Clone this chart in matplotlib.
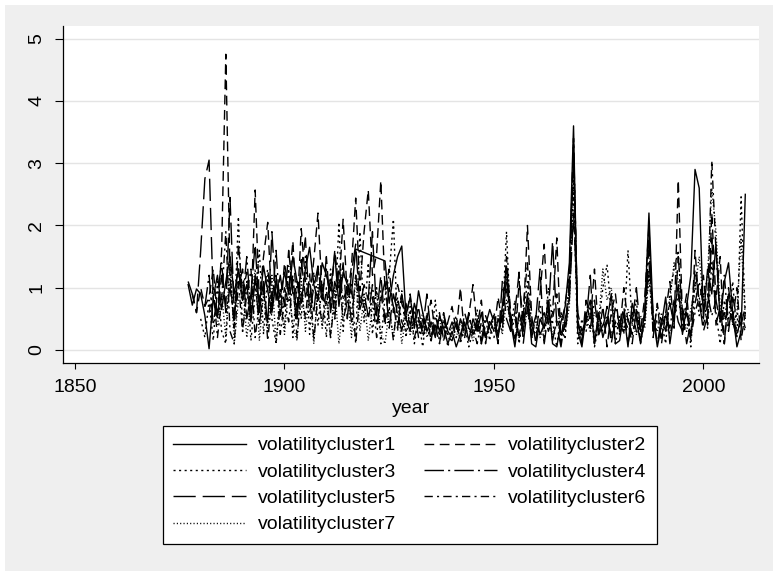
# Stata-style line chart: seven volatility cluster series by year
import matplotlib.pyplot as plt
from matplotlib.patches import Rectangle

plt.rcParams['font.family'] = ['Liberation Sans', 'DejaVu Sans']
plt.rcParams['lines.scale_dashes'] = False

labels = ['volatilitycluster1', 'volatilitycluster2', 'volatilitycluster3',
          'volatilitycluster4', 'volatilitycluster5', 'volatilitycluster6',
          'volatilitycluster7']

# first year of each series (values below are one per year from there on)
starts = [1877, 1878, 1880, 1881, 1877, 1882, 1884]

# values (None = year missing, line joins across it)
vc1 = [1.05, 0.72, 0.98,
       0.9, 0.55, 0.02, 0.85, 1.2, 0.65, 1.1, 1.5, 0.9, 1.3,
       0.8, 1.05, 0.45, 1.2, 0.7, 1.35, 0.95, 0.6, 1.1, 0.85,
       1.25, 0.9, 1.5, 1.1, 0.75, 1.3, 1.65, 1.05, 0.8, 1.4,
       1.2, 0.95, 1.55, 0.7, 1.25, 1.05, 0.9, 1.62, None, None,
       None, None, None, None, 1.43, 0.75, 1.2, 1.5, 1.67, 0.55,
       0.85, 0.4, 0.95, 0.6, 0.3, 0.45, 0.2, 0.55, 0.35, 0.1,
       0.3, 0.05, 0.25, 0.45, 0.15, 0.5, 0.3, 0.6, 0.2, 0.4,
       0.55, 0.2, 0.7, 1.35, 0.45, 0.05, 0.6, 0.3, 0.9, 0.1,
       0.05, 0.5, 0.35, 0.8, 0.1, 0.05, 0.45, 0.7, 1.4, 3.6,
       0.3, 0.05, 0.55, 0.8, 0.1, 0.6, 0.2, 0.45, 0.9, 0.1,
       0.15, 0.6, 0.05, 0.75, 0.5, 0.1, 0.65, 2.2, 0.55, 0.05,
       0.4, 0.85, 0.1, 0.6, 1.05, 0.25, 0.7, 1.2, 2.9, 2.6,
       0.5, 1.3, 0.9, 1.7, 0.45, 1.1, 1.4, 0.6, 0.05, 0.3, 2.5]

vc2 = [0.9, 0.6,
       1.0, 0.7, 0.85, 1.3, 0.5, 1.6, 4.75, 1.2, 0.35, 1.7,
       0.9, 1.25, 0.6, 2.57, 0.8, 1.5, 2.05, 0.7, 1.15, 0.55,
       1.4, 0.95, 1.75, 0.6, 1.95, 1.1, 0.8, 1.45, 2.2, 0.9,
       1.3, 0.7, 1.6, 1.0, 2.1, 0.85, 1.35, 2.44, 0.95, 1.9,
       2.57, 1.2, 1.55, 2.72, 0.95, 1.3, 0.6, 1.05, 0.75, 0.5,
       0.9, 0.35, 0.7, 0.2, 0.5, 0.8, 0.25, 0.6, 0.15, 0.45,
       0.7, 0.3, 1.0, 0.2, 0.55, 1.05, 0.35, 0.8, 0.1, 0.5,
       0.3, 0.85, 0.4, 1.5, 0.6, 0.1, 1.1, 0.45, 2.0, 0.55,
       0.1, 0.9, 1.7, 0.4, 0.6, 1.8, 0.1, 0.75, 1.2, 3.3,
       0.5, 0.1, 0.8, 0.45, 1.3, 0.2, 0.7, 0.05, 0.6, 0.9,
       0.3, 1.0, 0.45, 0.1, 0.65, 0.3, 0.85, 2.0, 0.2, 0.75,
       0.1, 0.6, 1.1, 0.35, 2.73, 0.5, 0.9, 0.15, 1.6, 0.7,
       1.2, 0.4, 2.2, 0.8, 1.5, 0.1, 0.9, 0.5, 1.0, 0.15, 0.6]

vc3 = [0.5, 0.2, 0.8, 0.15, 1.1, 0.3, 0.1, 1.3, 0.4, 2.14,
       0.3, 1.1, 0.15, 0.9, 1.6, 0.25, 1.2, 0.5, 0.1, 1.0,
       0.35, 1.35, 0.2, 1.1, 0.5, 1.5, 0.25, 1.25, 0.4, 1.05,
       0.2, 1.3, 0.5, 2.05, 0.3, 1.15, 0.6, 0.15, 1.9, 0.45,
       1.4, 0.25, 1.0, 0.1, 0.85, 1.2, 2.1, 0.3, 0.95, 0.2,
       0.7, 0.1, 0.5, 0.05, 0.6, 0.15, 0.8, 0.1, 0.45, 0.05,
       0.35, 0.55, 0.1, 0.4, 0.05, 0.3, 0.65, 0.1, 0.5, 0.15,
       0.6, 0.3, 0.45, 1.9, 0.35, 0.8, 0.1, 0.55, 1.1, 0.2,
       0.3, 0.7, 0.1, 1.0, 0.45, 0.05, 0.6, 0.35, 0.9, 2.6,
       0.1, 0.5, 0.3, 0.75, 0.05, 0.4, 1.0, 1.37, 0.6, 0.1,
       0.55, 0.25, 1.6, 0.4, 0.8, 0.1, 0.5, 1.2, 0.35, 0.7,
       0.45, 0.1, 0.9, 1.3, 1.6, 0.4, 0.75, 0.05, 1.1, 0.55,
       0.9, 0.35, 1.4, 0.6, 0.1, 0.8, 0.5, 1.1, 0.2, 2.46, 0.5]

vc4 = [0.7, 1.2, 0.4, 0.9, 1.4, 0.6, 1.0, 0.5, 1.3,
       0.8, 1.5, 0.6, 1.1, 0.4, 0.95, 1.3, 0.7, 1.6, 0.55,
       1.0, 0.75, 1.2, 0.5, 1.45, 0.85, 1.1, 0.6, 1.3, 0.9,
       0.7, 1.15, 0.5, 1.35, 0.8, 1.0, 0.45, 1.2, 0.65, 0.9,
       0.55, 1.05, 0.4, 0.8, 1.1, 0.35, 0.9, 0.6, 0.3, 0.75,
       0.4, 0.65, 0.2, 0.5, 0.35, 0.15, 0.55, 0.3, 0.6, 0.25,
       0.45, 0.2, 0.5, 0.3, 0.6, 0.25, 0.4, 0.15, 0.55, 0.35,
       0.2, 0.5, 0.3, 1.2, 0.4, 0.6, 0.2, 0.45, 0.8, 0.3,
       0.55, 0.25, 0.4, 0.65, 0.15, 0.5, 0.3, 0.2, 1.0, 3.1,
       0.45, 0.2, 0.6, 0.35, 0.8, 0.25, 0.4, 0.55, 0.2, 0.7,
       0.4, 0.3, 0.5, 0.25, 0.6, 0.15, 0.45, 1.9, 0.3, 0.5,
       0.2, 0.55, 0.35, 0.8, 0.45, 0.3, 0.6, 0.25, 0.75, 1.1,
       0.7, 0.9, 0.55, 0.8, 0.45, 0.6, 0.3, 0.85, 0.5, 0.4, 0.7]

vc5 = [1.1, 0.9, 0.6,
       1.6, 2.75, 3.05, 0.8, 0.5, 1.2, 0.7, 2.45, 0.6, 1.0,
       1.3, 0.5, 0.9, 1.7, 0.6, 1.1, 0.4, 1.9, 0.8, 1.2,
       0.7, 1.6, 0.9, 0.5, 1.3, 1.8, 0.6, 1.0, 1.35, 0.75,
       1.5, 0.6, 1.1, 0.85, 1.4, 0.5, 1.25, 1.7, 0.7, 1.05,
       0.8, 1.9, 0.55, 1.2, 0.45, 1.0, 0.7, 0.35, 0.9, 0.5,
       0.3, 0.75, 0.5, 0.35, 0.9, 0.25, 0.4, 0.1, 0.55, 0.3,
       0.2, 0.45, 0.15, 0.6, 0.35, 0.25, 0.5, 0.1, 0.4, 0.65,
       0.45, 0.1, 1.1, 0.5, 0.3, 0.6, 1.25, 0.1, 0.7, 0.2,
       0.5, 1.3, 0.1, 0.6, 1.75, 0.4, 0.05, 0.5, 0.8, 2.2,
       0.6, 0.3, 0.45, 1.2, 0.1, 0.55, 0.35, 0.7, 0.1, 0.5,
       0.35, 0.7, 0.1, 0.45, 1.0, 0.3, 0.55, 1.4, 0.6, 0.1,
       0.5, 0.3, 0.75, 0.4, 1.5, 0.6, 0.1, 0.45, 1.3, 0.8,
       0.3, 0.55, 1.8, 0.4, 0.7, 0.1, 1.0, 0.45, 0.2, 0.6, 0.35]

vc6 = [0.6, 1.0, 0.2, 0.8, 1.9, 0.3, 0.1, 1.1,
       0.3, 0.9, 1.3, 0.2, 0.75, 1.05, 0.15, 0.85, 1.2, 0.25,
       0.8, 0.45, 1.1, 0.2, 0.95, 0.5, 1.25, 0.15, 0.9, 0.4,
       1.0, 0.2, 0.85, 1.15, 0.5, 0.75, 1.05, 0.1, 0.9, 0.7,
       0.5, 0.85, 0.2, 0.95, 0.4, 0.7, 0.15, 0.85, 0.45, 0.3,
       0.6, 0.2, 0.45, 0.3, 0.55, 0.15, 0.4, 0.25, 0.5, 0.2,
       0.15, 0.4, 0.3, 0.2, 0.5, 0.35, 0.1, 0.45, 0.25, 0.3,
       0.4, 0.25, 0.6, 1.0, 0.3, 0.5, 0.2, 0.7, 1.4, 0.35,
       0.25, 0.45, 0.6, 0.3, 0.5, 0.9, 0.2, 0.4, 1.1, 3.4,
       0.35, 0.15, 0.5, 0.6, 0.25, 0.4, 0.3, 0.5, 0.2, 0.45,
       0.25, 0.5, 0.35, 0.6, 0.3, 0.2, 0.45, 1.7, 0.4, 0.3,
       0.35, 0.6, 0.25, 0.5, 0.9, 0.3, 0.45, 0.2, 0.6, 0.85,
       0.4, 0.7, 3.04, 1.6, 0.5, 1.2, 0.35, 0.6, 0.25, 0.45, 0.3]

vc7 = [0.4, 0.9, 0.2, 1.5, 0.1, 0.8,
       1.1, 0.2, 0.75, 1.3, 0.15, 0.9, 0.3, 1.2, 0.1, 0.8,
       0.25, 1.0, 0.4, 0.15, 1.15, 0.3, 0.9, 0.1, 1.05, 0.35,
       0.8, 0.2, 1.0, 0.1, 0.75, 0.9, 0.2, 1.2, 0.3, 0.85,
       0.15, 0.7, 0.95, 0.25, 0.1, 0.65, 0.2, 0.8, 0.1, 0.55,
       0.25, 0.5, 0.35, 0.6, 0.2, 0.4, 0.3, 0.5, 0.15, 0.35,
       0.3, 0.2, 0.45, 0.25, 0.35, 0.15, 0.4, 0.3, 0.2, 0.45,
       0.3, 0.55, 0.25, 0.8, 0.4, 0.2, 0.5, 0.35, 0.6, 0.3,
       0.45, 0.2, 0.35, 0.5, 0.25, 0.4, 0.6, 0.3, 0.7, 2.8,
       0.4, 0.25, 0.5, 0.3, 0.6, 0.45, 1.3, 0.8, 1.0, 0.35,
       0.5, 0.3, 0.65, 0.4, 0.25, 0.55, 0.35, 1.2, 0.45, 0.3,
       0.6, 0.35, 0.8, 1.4, 1.1, 0.5, 0.3, 0.65, 1.0, 1.5,
       0.8, 1.2, 2.6, 1.9, 0.7, 0.5, 0.9, 0.4, 0.6, 1.8, 0.5]

series = [vc1, vc2, vc3, vc4, vc5, vc6, vc7]
xticks = [1850, 1900, 1950, 2000]
yticks = [0, 1, 2, 3, 4, 5]

# Stata line patterns: solid, dash, dot, longdash_dot, longdash, dash_dot, vshortdash
styles = ['-', (0, (7, 4)), (0, (1.5, 2.5)), (0, (14, 3, 1.5, 3)),
          (0, (16, 5)), (0, (6, 3, 1.5, 3)), (0, (0.8, 1.6))]

W, H = 773, 571
fig = plt.figure(figsize=(W / 100, H / 100), dpi=100, facecolor='white')
fig.patches.append(Rectangle((5 / W, 0), 1, 1 - 5 / H, transform=fig.transFigure,
                             facecolor='#EFEFEF', edgecolor='none', zorder=-10))

ax = fig.add_axes([62.7 / W, 1 - 363.3 / H, (758.7 - 62.7) / W, (363.3 - 26) / H])
ax.set_facecolor('white')

handles = []
for vals, start, ls, lab in zip(series, starts, styles, labels):
    pts = [(start + k, v) for k, v in enumerate(vals) if v is not None]
    xs = [p[0] for p in pts]
    ys = [p[1] for p in pts]
    h, = ax.plot(xs, ys, color='black', lw=1.0, linestyle=ls, label=lab)
    handles.append(h)

ax.set_xlim(1847.06, 2013.2)
ax.set_ylim(-0.214, 5.204)
ax.set_xticks(xticks)
ax.set_yticks(yticks)
ax.grid(axis='y', color='#E4E4E4', lw=1.0)
ax.set_axisbelow(True)

for s in ['top', 'right']:
    ax.spines[s].set_visible(False)
for s in ['left', 'bottom']:
    ax.spines[s].set_linewidth(0.9)

ax.tick_params(axis='both', direction='out', width=0.8, labelsize=14, pad=7)
ax.tick_params(axis='y', length=5.5)
ax.tick_params(axis='x', length=4.5)
for lbl in ax.get_yticklabels():
    lbl.set_rotation(90)
    lbl.set_va('center')

ax.set_xlabel('year', fontsize=14, labelpad=3)

# Stata fills the legend row by row; matplotlib fills columns, so reorder
order = [0, 2, 4, 6, 1, 3, 5]
leg = fig.legend([handles[i] for i in order], [labels[i] for i in order],
                 ncol=2, loc='upper center', bbox_to_anchor=(410 / W, 1 - 426 / H),
                 borderaxespad=0, frameon=True, fancybox=False, edgecolor='black',
                 facecolor='white', framealpha=1, fontsize=14, handlelength=3.75,
                 handletextpad=0.6, columnspacing=1.42, labelspacing=0.45,
                 borderpad=0.55)
leg.get_frame().set_linewidth(0.9)

fig.savefig('out.png', dpi=100, facecolor=fig.get_facecolor())
